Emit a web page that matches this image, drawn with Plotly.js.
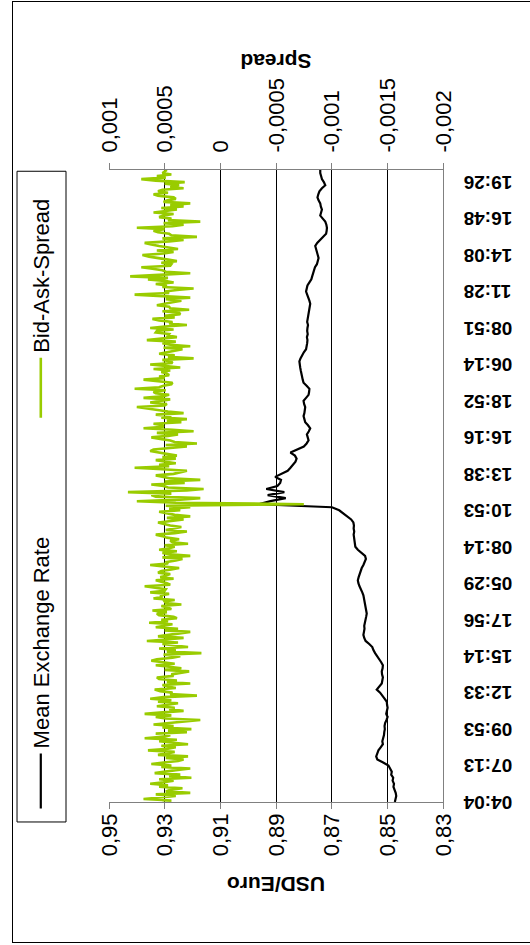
<!DOCTYPE html>
<html>
<head>
<meta charset="utf-8">
<script src="https://cdn.plot.ly/plotly-3.0.1.min.js"></script>
<style>
  html, body { margin:0; padding:0; background:#fff; overflow:hidden; width:530px; height:945px; }
  #wrap { position:absolute; left:0; top:0; width:945px; height:530px;
          transform-origin:0 0; transform:translate(0px,945px) rotate(-90deg); }
  #chart { position:absolute; left:0; top:0; width:945px; height:530px; }
  #frame { position:absolute; left:2px; top:12px; width:940px; height:600px;
           border:1px solid #000; pointer-events:none; }
</style>
</head>
<body>
<div id="wrap">
  <div id="chart"></div>
  <div id="frame"></div>
</div>
<script>
const timeLabels = ['04:04','07:13','09:53','12:33','15:14','17:56','05:29','08:14','10:53',
  '13:38','16:16','18:52','06:14','08:51','11:28','14:08','16:48','19:26'];

// Mean exchange rate (USD/Euro), one value per step of the time axis
const meanRate = [
0.8473,0.8471,0.8468,0.8470,0.8475,0.8478,0.8476,0.8481,0.8479,0.8486,
0.8484,0.8490,0.8496,0.8515,0.8536,0.8540,0.8535,0.8532,0.8524,0.8516,
0.8518,0.8514,0.8512,0.8511,0.8509,0.8510,0.8508,0.8503,0.8499,0.8504,
0.8502,0.8499,0.8501,0.8502,0.8510,0.8518,0.8526,0.8538,0.8530,0.8520,
0.8518,0.8516,0.8519,0.8520,0.8517,0.8516,0.8522,0.8530,0.8538,0.8544,
0.8550,0.8554,0.8565,0.8578,0.8583,0.8586,0.8584,0.8582,0.8583,0.8580,
0.8579,0.8576,0.8574,0.8576,0.8577,0.8580,0.8582,0.8584,0.8586,0.8590,
0.8596,0.8600,0.8604,0.8606,0.8603,0.8600,0.8597,0.8592,0.8586,0.8581,
0.8577,0.8580,0.8594,0.8606,0.8615,0.8617,0.8619,0.8620,0.8621,0.8619,
0.8621,0.8620,0.8622,0.8630,0.8645,0.8657,0.8673,0.8699,0.8963,0.8920,
0.8865,0.8930,0.8870,0.8935,0.8895,0.8885,0.8882,0.8903,0.8878,0.8858,
0.8848,0.8838,0.8830,0.8826,0.8832,0.8848,0.8822,0.8800,0.8790,0.8783,
0.8786,0.8789,0.8782,0.8777,0.8785,0.8795,0.8798,0.8801,0.8798,0.8796,
0.8795,0.8799,0.8801,0.8792,0.8783,0.8781,0.8780,0.8790,0.8801,0.8804,
0.8807,0.8808,0.8811,0.8813,0.8815,0.8816,0.8812,0.8807,0.8800,0.8792,
0.8789,0.8788,0.8787,0.8789,0.8786,0.8788,0.8787,0.8785,0.8788,0.8786,
0.8785,0.8783,0.8780,0.8778,0.8777,0.8780,0.8783,0.8788,0.8792,0.8790,
0.8787,0.8780,0.8773,0.8770,0.8767,0.8765,0.8760,0.8753,0.8750,0.8747,
0.8750,0.8753,0.8756,0.8759,0.8752,0.8742,0.8730,0.8720,0.8718,0.8717,
0.8719,0.8723,0.8732,0.8741,0.8738,0.8735,0.8739,0.8741,0.8747,0.8751,
0.8748,0.8744,0.8735,0.8723,0.8728,0.8735,0.8738,0.8741,0.8741
];

// Bid-ask spread, two values per step of the time axis
const bidAskSpread = [
0.00052,0.00044, 0.00069,0.00050, 0.00040,0.00058, 0.00027,0.00049, 0.00045,0.00034,
0.00055,0.00047, 0.00063,0.00051, 0.00042,0.00055, 0.00026,0.00046, 0.00036,0.00059,
0.00050,0.00040, 0.00027,0.00053, 0.00044,0.00062, 0.00051,0.00038, 0.00033,0.00049,
0.00029,0.00056, 0.00048,0.00041, 0.00065,0.00047, 0.00040,0.00053, 0.00029,0.00045,
0.00055,0.00039, 0.00068,0.00050, 0.00045,0.00058, 0.00030,0.00047, 0.00026,0.00052,
0.00042,0.00060, 0.00047,0.00036, 0.00018,0.00049, 0.00058,0.00044, 0.00068,0.00052,
0.00033,0.00046, 0.00041,0.00057, 0.00048,0.00038, 0.00056,0.00044, 0.00063,0.00051,
0.00021,0.00045, 0.00043,0.00054, 0.00059,0.00040, 0.00047,0.00052, 0.00027,0.00048,
0.00039,0.00055, 0.00057,0.00042, 0.00044,0.00036, 0.00028,0.00050, 0.00035,0.00046,
0.00058,0.00041, 0.00050,0.00062, 0.00057,0.00043, 0.00036,0.00051, 0.00017,0.00048,
0.00040,0.00055, 0.00029,0.00044, 0.00052,0.00038, 0.00066,0.00049, 0.00033,0.00056,
0.00045,0.00037, 0.00027,0.00050, 0.00038,0.00058, 0.00049,0.00043, 0.00064,0.00047,
0.00053,0.00039, 0.00042,0.00055, 0.00057,0.00048, 0.00061,0.00044, 0.00047,0.00053,
0.00035,0.00049, 0.00050,0.00041, 0.00060,0.00052, 0.00054,0.00046, 0.00063,0.00050,
0.00049,0.00057, 0.00068,0.00045, 0.00048,0.00053, 0.00058,0.00042, 0.00054,0.00049,
0.00045,0.00056, 0.00053,0.00044, 0.00037,0.00051, 0.00063,0.00047, 0.00048,0.00040,
0.00034,0.00052, 0.00027,0.00045, 0.00052,0.00039, 0.00055,0.00046, 0.00041,0.00050,
0.00029,0.00043, 0.00045,0.00037, 0.00048,0.00052, 0.00058,0.00041, 0.00030,0.00049,
0.00042,0.00035, 0.00045,0.00051, 0.00056,0.00044, 0.00033,0.00048, 0.00027,0.00041,
0.00048,0.00055, 0.00036,0.00046, 0.00027,0.00049, -0.00075,0.00040, 0.00075,0.00036,
0.00018,0.00058, 0.00062,0.00044, 0.00083,0.00030, 0.00015,0.00047, 0.00051,0.00062,
0.00032,0.00050, 0.00018,0.00045, 0.00051,0.00058, 0.00042,0.00036, 0.00030,0.00052,
0.00077,0.00046, 0.00055,0.00040, 0.00049,0.00058, 0.00040,0.00052, 0.00039,0.00047,
0.00058,0.00063, 0.00060,0.00044, 0.00030,0.00049, 0.00021,0.00041, 0.00045,0.00054,
0.00062,0.00047, 0.00038,0.00057, 0.00024,0.00043, 0.00069,0.00051, 0.00052,0.00060,
0.00035,0.00048, 0.00030,0.00053, 0.00044,0.00058, 0.00033,0.00047, 0.00056,0.00062,
0.00075,0.00050, 0.00048,0.00063, 0.00054,0.00045, 0.00069,0.00052, 0.00046,0.00058,
0.00060,0.00049, 0.00077,0.00055, 0.00051,0.00044, 0.00043,0.00056, 0.00069,0.00050,
0.00055,0.00046, 0.00048,0.00053, 0.00045,0.00060, 0.00036,0.00049, 0.00063,0.00043,
0.00044,0.00052, 0.00024,0.00047, 0.00041,0.00055, 0.00048,0.00038, 0.00034,0.00051,
0.00027,0.00045, 0.00052,0.00040, 0.00066,0.00053, 0.00039,0.00047, 0.00046,0.00058,
0.00057,0.00042, 0.00063,0.00050, 0.00030,0.00046, 0.00043,0.00055, 0.00061,0.00041,
0.00050,0.00036, 0.00037,0.00052, 0.00028,0.00045, 0.00046,0.00057, 0.00051,0.00043,
0.00035,0.00049, 0.00027,0.00054, 0.00077,0.00046, 0.00050,0.00039, 0.00024,0.00052,
0.00048,0.00058, 0.00042,0.00050, 0.00065,0.00047, 0.00081,0.00055, 0.00027,0.00049,
0.00052,0.00061, 0.00071,0.00045, 0.00044,0.00053, 0.00039,0.00047, 0.00058,0.00064,
0.00070,0.00051, 0.00042,0.00057, 0.00038,0.00049, 0.00055,0.00062, 0.00068,0.00046,
0.00033,0.00052, 0.00021,0.00044, 0.00046,0.00056, 0.00060,0.00050, 0.00075,0.00043,
0.00033,0.00051, 0.00018,0.00047, 0.00044,0.00055, 0.00051,0.00042, 0.00060,0.00049,
0.00039,0.00053, 0.00033,0.00045, 0.00027,0.00051, 0.00048,0.00040, 0.00042,0.00056,
0.00060,0.00047, 0.00056,0.00052, 0.00033,0.00045, 0.00037,0.00050, 0.00032,0.00058,
0.00071,0.00049, 0.00057,0.00044, 0.00052,0.00050, 0.00048
];

const usdTicks = [0.83,0.85,0.87,0.89,0.91,0.93,0.95];
const usdTickText = ['0,83','0,85','0,87','0,89','0,91','0,93','0,95'];
const spreadTicks = [-0.002,-0.0015,-0.001,-0.0005,0,0.0005,0.001];
const spreadTickText = ['-0,002','-0,0015','-0,001','-0,0005','0','0,0005','0,001'];

const labelStep = 12;      // time-axis steps between labels
const spreadPerStep = 2;   // spread values per time-axis step
const F = 'Liberation Sans, Arial, sans-serif';

const traces = [
  { x: meanRate.map((_,k)=>k), y: meanRate, type:'scatter', mode:'lines',
    name:'Mean Exchange Rate', legend:'legend',
    line:{color:'#000000', width:2.2}, yaxis:'y' },
  { x: bidAskSpread.map((_,k)=>k/spreadPerStep), y: bidAskSpread, type:'scatter', mode:'lines',
    name:'Bid-Ask-Spread', legend:'legend2',
    line:{color:'#99CC00', width:2.6}, yaxis:'y2' }
];

const legFont = {family:F, size:22, color:'#000'};
const layout = {
  width:945, height:530,
  margin:{l:143, r:170, t:109, b:87, autoexpand:false},
  paper_bgcolor:'#ffffff', plot_bgcolor:'#ffffff',
  font:{family:F, color:'#000'},
  showlegend:true,
  legend:{orientation:'h', x:-0.018, xanchor:'left', y:1.2036, yanchor:'middle',
    font:legFont, bgcolor:'rgba(0,0,0,0)', borderwidth:0, itemwidth:55},
  legend2:{orientation:'h', x:0.600, xanchor:'left', y:1.2036, yanchor:'middle',
    font:legFont, bgcolor:'rgba(0,0,0,0)', borderwidth:0, itemwidth:60},
  xaxis:{range:[0,meanRate.length-1], tickvals:timeLabels.map((_,k)=>k*labelStep),
    ticktext:timeLabels, tickangle:-90, ticks:'', showgrid:false, zeroline:false,
    showline:true, linecolor:'#808080', linewidth:1, ticklabelstandoff:12,
    tickfont:{family:F, size:19, weight:'bold', color:'#000'}},
  yaxis:{range:[0.83,0.95], tickvals:usdTicks, ticktext:usdTickText,
    ticks:'outside', ticklen:6, tickcolor:'#808080', showgrid:true, gridcolor:'#000000',
    gridwidth:1, zeroline:false, showline:true, linecolor:'#808080', linewidth:1,
    tickfont:{family:F, size:22, color:'#000'},
    title:{text:'USD/Euro', standoff:14, font:{family:F, size:21, weight:'bold', color:'#000'}}},
  yaxis2:{range:[-0.002,0.001], overlaying:'y', side:'right', tickvals:spreadTicks,
    ticktext:spreadTickText, ticks:'outside', ticklen:6, tickcolor:'#808080',
    showgrid:false, zeroline:false, showline:true, linecolor:'#808080', linewidth:1,
    ticklabelstandoff:6, tickfont:{family:F, size:22, color:'#000'},
    title:{text:'Spread', standoff:10, font:{family:F, size:21, weight:'bold', color:'#000'}}},
  shapes:[
    {type:'rect', xref:'paper', yref:'paper', x0:-0.0316, x1:0.998, y0:1.1287, y1:1.2754,
     line:{color:'#000', width:1}, fillcolor:'rgba(0,0,0,0)'}
  ]
};

Plotly.newPlot('chart', traces, layout, {displayModeBar:false, staticPlot:true});
</script>
</body>
</html>
